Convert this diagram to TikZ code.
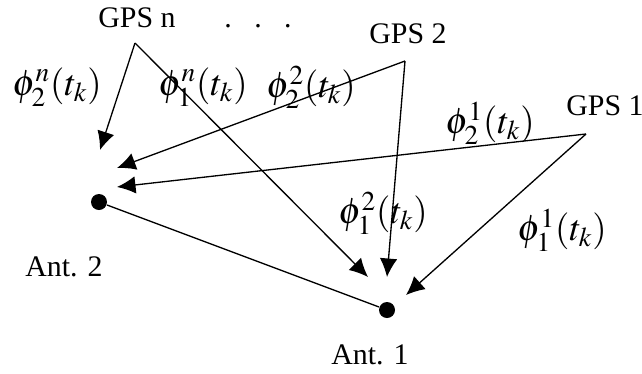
\documentclass[tikz,border=0pt]{standalone}
\usepackage{mathptmx}
\usepackage[no-math]{fontspec}
\setmainfont{Liberation Serif}
\usetikzlibrary{arrows.meta}

\begin{document}
\begin{tikzpicture}[
    x=0.02cm, y=-0.02cm,
    line width=0.75pt,
    >={Latex[length=3.7mm,width=3.5mm]},
    rotulo/.style={inner sep=0pt, font=\fontsize{17}{20}\selectfont},
    fase/.style={inner sep=0pt, font=\fontsize{21}{24}\selectfont},
    antena/.style={circle, fill, inner sep=0pt, minimum size=0.32cm},
  ]
  \useasboundingbox (0,0) rectangle (642,373);

  % Satelites
  \node[rotulo, anchor=base] (gpsn) at (137,27) {GPS n};
  \node[rotulo, anchor=base] (pontos) at (258,27) {.\hspace{0.75em}.\hspace{0.75em}.};
  \node[rotulo] (gps2) at (408,34) {GPS 2};
  \node[rotulo] (gps1) at (605,106) {GPS 1};
  \coordinate (sn) at (135,43);
  \coordinate (s2) at (405,61);
  \coordinate (s1) at (586,134);

  % Antenas
  \node[antena] (ant2) at (99,202) {};
  \node[antena] (ant1) at (387,310) {};
  \node[rotulo] (rot2) at (64,267) {Ant. 2};
  \node[rotulo] (rot1) at (370,355) {Ant. 1};
  \coordinate (pn2) at (100,150);
  \coordinate (pn1) at (368,277);
  \coordinate (p22) at (117,168);
  \coordinate (p21) at (387,277);
  \coordinate (p12) at (117,187);
  \coordinate (p11) at (406,295);

  % Fases
  \node[fase] (fn2) at (57,87) {$\phi_2^n(t_k)$};
  \node[fase] (fn1) at (203,87) {$\phi_1^n(t_k)$};
  \node[fase] (f22) at (311,87) {$\phi_2^2(t_k)$};
  \node[fase] (f12) at (490,123) {$\phi_2^1(t_k)$};
  \node[fase] (f21) at (383,213) {$\phi_1^2(t_k)$};
  \node[fase] (f11) at (562,230) {$\phi_1^1(t_k)$};

  % Sinais
  \draw[->] (sn) -- (pn2);
  \draw[->] (sn) -- (pn1);
  \draw[->] (s2) -- (p22);
  \draw[->] (s2) -- (p21);
  \draw[->] (s1) -- (p12);
  \draw[->] (s1) -- (p11);
  \draw (ant2) -- (ant1);
\end{tikzpicture}
\end{document}
